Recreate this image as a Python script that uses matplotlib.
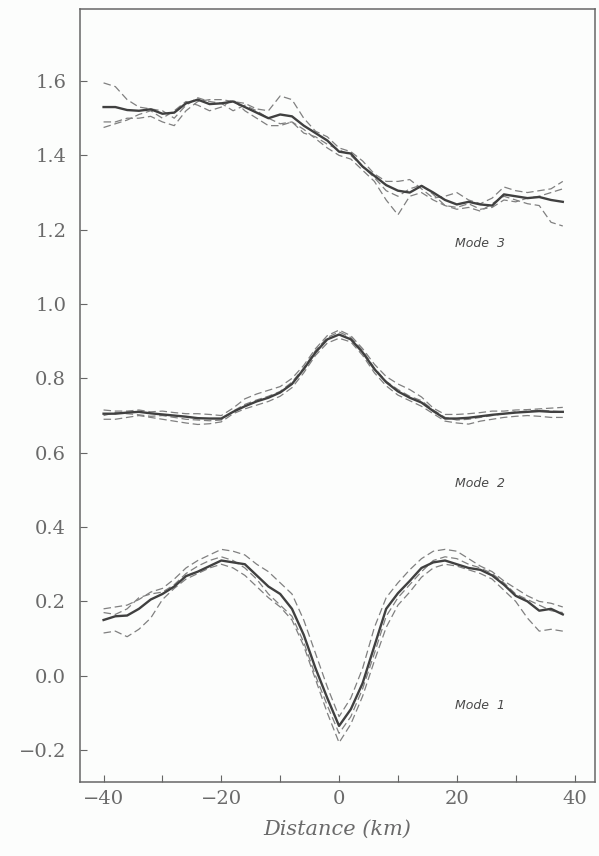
import numpy as np
import matplotlib
matplotlib.use("Agg")
import matplotlib.pyplot as plt

# ---------------- Données
distance = np.arange(-40, 40, 2)

# Mode 3
mode3 = [1.53, 1.53, 1.522, 1.52, 1.524, 1.512, 1.515, 1.54, 1.55, 1.538,
         1.54, 1.545, 1.53, 1.515, 1.50, 1.51, 1.505, 1.48, 1.46, 1.44,
         1.41, 1.405, 1.37, 1.345, 1.32, 1.305, 1.30, 1.318, 1.30, 1.28,
         1.268, 1.275, 1.268, 1.265, 1.295, 1.29, 1.285, 1.288, 1.28, 1.275]
mode3_a = [1.595, 1.585, 1.55, 1.53, 1.525, 1.52, 1.50, 1.535, 1.555, 1.545,
           1.54, 1.52, 1.535, 1.52, 1.50, 1.485, 1.49, 1.47, 1.445, 1.42,
           1.40, 1.39, 1.36, 1.33, 1.28, 1.24, 1.29, 1.30, 1.28, 1.265,
           1.255, 1.26, 1.25, 1.27, 1.29, 1.28, 1.27, 1.265, 1.22, 1.21]
mode3_b = [1.49, 1.49, 1.50, 1.50, 1.505, 1.49, 1.48, 1.52, 1.545, 1.55,
           1.55, 1.545, 1.54, 1.525, 1.52, 1.56, 1.55, 1.50, 1.465, 1.45,
           1.42, 1.41, 1.385, 1.35, 1.33, 1.33, 1.335, 1.31, 1.285, 1.29,
           1.30, 1.28, 1.27, 1.285, 1.315, 1.305, 1.30, 1.305, 1.31, 1.33]
mode3_c = [1.475, 1.485, 1.495, 1.51, 1.52, 1.50, 1.52, 1.545, 1.535, 1.52,
           1.53, 1.55, 1.52, 1.50, 1.48, 1.48, 1.49, 1.46, 1.45, 1.43,
           1.415, 1.40, 1.37, 1.34, 1.305, 1.29, 1.31, 1.32, 1.295, 1.265,
           1.26, 1.27, 1.255, 1.26, 1.28, 1.275, 1.285, 1.29, 1.30, 1.31]

# Mode 2
mode2 = [0.705, 0.705, 0.708, 0.71, 0.706, 0.703, 0.70, 0.697, 0.693, 0.692,
         0.692, 0.71, 0.725, 0.738, 0.748, 0.762, 0.785, 0.825, 0.87, 0.905,
         0.918, 0.905, 0.87, 0.825, 0.79, 0.765, 0.748, 0.735, 0.712, 0.692,
         0.692, 0.694, 0.698, 0.702, 0.705, 0.708, 0.71, 0.712, 0.71, 0.71]
mode2_a = [0.715, 0.712, 0.712, 0.715, 0.71, 0.712, 0.708, 0.705, 0.705, 0.703,
           0.70, 0.72, 0.745, 0.758, 0.768, 0.778, 0.80, 0.835, 0.88, 0.915,
           0.93, 0.915, 0.88, 0.838, 0.805, 0.785, 0.77, 0.75, 0.72, 0.703,
           0.703, 0.705, 0.708, 0.712, 0.712, 0.715, 0.716, 0.718, 0.72, 0.722]
mode2_b = [0.69, 0.69, 0.695, 0.70, 0.695, 0.69, 0.685, 0.68, 0.676, 0.678,
           0.683, 0.705, 0.718, 0.728, 0.738, 0.752, 0.775, 0.815, 0.862, 0.895,
           0.908, 0.898, 0.862, 0.815, 0.78, 0.755, 0.74, 0.725, 0.705, 0.685,
           0.68, 0.677, 0.685, 0.69, 0.695, 0.698, 0.70, 0.698, 0.695, 0.695]
mode2_c = [0.70, 0.708, 0.705, 0.702, 0.698, 0.70, 0.695, 0.69, 0.688, 0.686,
           0.688, 0.712, 0.73, 0.742, 0.752, 0.765, 0.79, 0.828, 0.875, 0.91,
           0.925, 0.91, 0.875, 0.828, 0.792, 0.77, 0.752, 0.74, 0.715, 0.695,
           0.688, 0.69, 0.695, 0.70, 0.705, 0.71, 0.712, 0.715, 0.712, 0.71]

# Mode 1
mode1 = [0.15, 0.16, 0.162, 0.18, 0.205, 0.22, 0.24, 0.268, 0.28, 0.295,
         0.31, 0.305, 0.30, 0.27, 0.24, 0.22, 0.18, 0.11, 0.02, -0.06,
         -0.135, -0.09, -0.02, 0.08, 0.18, 0.222, 0.255, 0.29, 0.305, 0.31,
         0.30, 0.29, 0.285, 0.27, 0.245, 0.215, 0.20, 0.175, 0.18, 0.165]
mode1_a = [0.18, 0.185, 0.19, 0.205, 0.225, 0.235, 0.26, 0.29, 0.31, 0.325,
           0.34, 0.335, 0.325, 0.30, 0.28, 0.25, 0.22, 0.15, 0.06, -0.03,
           -0.11, -0.06, 0.02, 0.13, 0.21, 0.25, 0.285, 0.315, 0.335, 0.34,
           0.335, 0.315, 0.295, 0.28, 0.255, 0.235, 0.215, 0.20, 0.195, 0.185]
mode1_b = [0.115, 0.12, 0.105, 0.125, 0.155, 0.205, 0.235, 0.26, 0.275, 0.29,
           0.30, 0.29, 0.27, 0.24, 0.21, 0.185, 0.15, 0.08, -0.01, -0.10,
           -0.18, -0.13, -0.055, 0.04, 0.13, 0.19, 0.225, 0.265, 0.29, 0.30,
           0.295, 0.285, 0.275, 0.26, 0.23, 0.20, 0.155, 0.12, 0.125, 0.12]
mode1_c = [0.17, 0.165, 0.18, 0.21, 0.22, 0.225, 0.245, 0.275, 0.295, 0.31,
           0.32, 0.31, 0.29, 0.26, 0.22, 0.19, 0.16, 0.09, 0.0, -0.08,
           -0.155, -0.11, -0.035, 0.06, 0.16, 0.21, 0.245, 0.28, 0.31, 0.32,
           0.315, 0.30, 0.29, 0.275, 0.25, 0.22, 0.205, 0.19, 0.175, 0.17]

moyennes = [mode3, mode2, mode1]
variantes = [[mode3_a, mode3_b, mode3_c],
             [mode2_a, mode2_b, mode2_c],
             [mode1_a, mode1_b, mode1_c]]
etiquettes = ["Mode  3", "Mode  2", "Mode  1"]
pos_etiquettes = [(24, 1.164), (24, 0.518), (24, -0.081)]

x_ticks = [-40, -30, -20, -10, 0, 10, 20, 30, 40]
x_ticklabels = ["\u221240", "", "\u221220", "", "0", "", "20", "", "40"]
y_ticks = [-0.2, 0.0, 0.2, 0.4, 0.6, 0.8, 1.0, 1.2, 1.4, 1.6]

# ---------------- Figure
gris_txt = '#6a6a6a'
plt.rcParams['font.family'] = ['DejaVu Serif']

fig = plt.figure(figsize=(5.99, 8.56), dpi=100)
fig.patch.set_facecolor('#fcfdfc')
ax = fig.add_axes([0.1336, 0.0864, 0.86, 0.9036])
ax.set_facecolor('#fcfdfc')

for moy, vars_, lab, pos in zip(moyennes, variantes, etiquettes, pos_etiquettes):
    for v in vars_:
        ax.plot(distance, v, color='#808080', lw=0.9, ls=(0, (6, 3)))
    ax.plot(distance, moy, color='#404040', lw=1.7)
    ax.text(pos[0], pos[1], lab, fontsize=9, style='italic',
            family='DejaVu Sans', color='#4a4a4a', ha='center', va='center')

ax.set_xlim(-44, 43.5)
ax.set_ylim(-0.286, 1.795)
ax.set_xticks(x_ticks)
ax.set_xticklabels(x_ticklabels)
ax.set_yticks(y_ticks)
ax.set_yticklabels([f"{t:.1f}".replace('-', '\u2212') for t in y_ticks])
ax.tick_params(direction='in', length=5, width=0.8, colors='#666666',
               labelcolor=gris_txt, labelsize=14)
ax.tick_params(axis='y', pad=10)
ax.tick_params(axis='x', pad=6)
for s in ax.spines.values():
    s.set_color('#666666')
    s.set_linewidth(1.1)

ax.set_xlabel('Distance (km)', fontsize=15, style='italic', color=gris_txt,
              labelpad=8)

fig.savefig('out.png', dpi=100, facecolor=fig.get_facecolor())
